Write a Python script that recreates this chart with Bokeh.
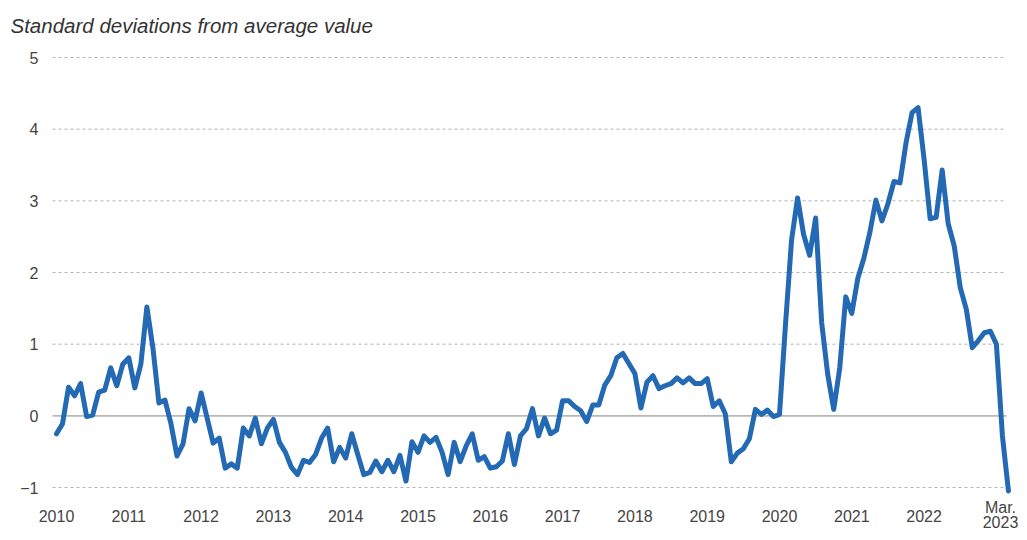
from bokeh.plotting import figure
from bokeh.models import Label
from bokeh.embed import file_html
from bokeh.resources import INLINE

start_year = 2010
values = [
    -0.25, -0.11, 0.40, 0.28, 0.45, -0.01, 0.01, 0.33, 0.36, 0.67, 0.42, 0.72,
    0.81, 0.39, 0.72, 1.52, 0.95, 0.18, 0.22, -0.11, -0.56, -0.39, 0.10, -0.07,
    0.32, -0.03, -0.38, -0.31, -0.73, -0.67, -0.73, -0.17, -0.28, -0.03, -0.39, -0.17,
    -0.05, -0.37, -0.51, -0.72, -0.82, -0.62, -0.65, -0.54, -0.31, -0.17, -0.64, -0.44,
    -0.59, -0.25, -0.54, -0.82, -0.79, -0.63, -0.78, -0.62, -0.78, -0.55, -0.91, -0.36,
    -0.51, -0.28, -0.37, -0.30, -0.51, -0.82, -0.37, -0.64, -0.42, -0.25, -0.62, -0.57,
    -0.73, -0.71, -0.63, -0.25, -0.68, -0.28, -0.18, 0.10, -0.28, -0.03, -0.25, -0.20,
    0.21, 0.21, 0.13, 0.07, -0.08, 0.15, 0.15, 0.43, 0.56, 0.81, 0.87, 0.73,
    0.59, 0.11, 0.47, 0.56, 0.38, 0.42, 0.45, 0.53, 0.46, 0.53, 0.45, 0.45,
    0.52, 0.13, 0.21, 0.03, -0.64, -0.52, -0.46, -0.32, 0.09, 0.02, 0.08, -0.01,
    0.02, 1.28, 2.45, 3.04, 2.53, 2.24, 2.76, 1.30, 0.58, 0.09, 0.67, 1.66,
    1.43, 1.92, 2.20, 2.56, 3.01, 2.72, 2.96, 3.27, 3.25, 3.81, 4.23, 4.30,
    3.58, 2.75, 2.77, 3.43, 2.68, 2.37, 1.79, 1.49, 0.95, 1.05, 1.16, 1.18,
    1.00, -0.28, -1.05,
]
x_vals = [start_year + i / 12 for i in range(len(values))]

x_ticks = [2010, 2011, 2012, 2013, 2014, 2015, 2016, 2017, 2018, 2019, 2020, 2021, 2022]
x_tick_labels = ["2010", "2011", "2012", "2013", "2014", "2015", "2016", "2017", "2018", "2019",
                 "2020", "2021", "2022"]
last_tick = 2023 + 2 / 12
last_tick_lines = ["Mar.", "2023"]
y_ticks = [-1, 0, 1, 2, 3, 4, 5]
y_tick_labels = ["\u22121", "0", "1", "2", "3", "4", "5"]
title_text = "Standard deviations from average value"

FONT = "Liberation Sans"
W, H = 1019, 532
ppx = 72.3    # pixels per year
ppy = 71.67   # pixels per unit
x0_px = 56    # pixel column of Jan 2010
y5_px = 57    # pixel row of the 5 line


def dx(px):
    return start_year + (px - x0_px) / ppx


def dy(py):
    return 5 - (py - y5_px) / ppy


p = figure(width=W, height=H, output_backend="svg", toolbar_location=None,
           min_border_left=0, min_border_right=0, min_border_top=0, min_border_bottom=0,
           x_range=(dx(0), dx(W)), y_range=(dy(H), dy(0)))
p.outline_line_color = None
p.background_fill_color = "white"
p.border_fill_color = "white"
p.xaxis.visible = False
p.yaxis.visible = False
p.xgrid.grid_line_color = None
p.ygrid.grid_line_color = None

# horizontal grid lines (dashed) and the solid zero line
g_left, g_right = dx(52), dx(1006)
dashed = [t for t in y_ticks if t != 0]
p.segment(x0=[g_left] * len(dashed), x1=[g_right] * len(dashed), y0=dashed, y1=dashed,
          line_color="#b3b3b3", line_dash="3 3", line_width=1)
p.segment(x0=[g_left], x1=[g_right], y0=[0], y1=[0], line_color="#b8b8b8", line_width=1.6)

p.line(x_vals, values, line_color="#2369b3", line_width=5, line_join="round", line_cap="round")

# title
p.add_layout(Label(x=dx(10), y=dy(25), text=title_text, text_font=FONT,
                   text_font_size="20.5px", text_font_style="italic", text_color="#333333",
                   text_align="left", text_baseline="middle"))

# y tick labels
for yt, lab in zip(y_ticks, y_tick_labels):
    p.add_layout(Label(x=dx(38), y=yt, text=lab, text_font=FONT, text_font_size="16px",
                       text_color="#444444", text_align="right", text_baseline="middle"))

# x tick labels
for xt, lab in zip(x_ticks, x_tick_labels):
    p.add_layout(Label(x=xt, y=dy(515), text=lab, text_font=FONT, text_font_size="16px",
                       text_color="#444444", text_align="center", text_baseline="middle"))
for k, lab in enumerate(last_tick_lines):
    p.add_layout(Label(x=dx(1000), y=dy(507 + 14 * k), text=lab, text_font=FONT,
                       text_font_size="16px", text_color="#444444", text_align="center",
                       text_baseline="middle"))

open("out.html", "w").write(file_html(p, INLINE))
